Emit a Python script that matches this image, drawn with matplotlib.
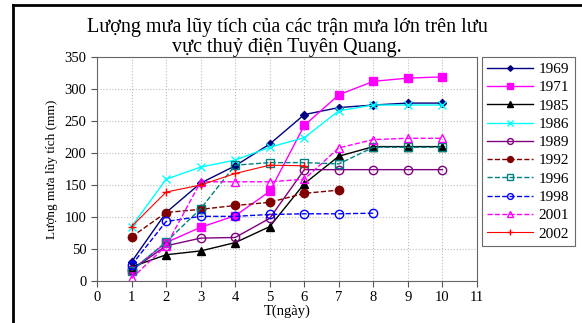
import matplotlib
matplotlib.use('Agg')
import matplotlib.pyplot as plt
from matplotlib.lines import Line2D

# cumulative rainfall (mm) per day of each storm
days = [1, 2, 3, 4, 5, 6, 7, 8, 9, 10]
r1969 = [30, 107, 153, 180, 214, 260, 271, 275, 278, 278]
r1971 = [17, 60, 84, 102, 140, 243, 291, 312, 317, 319]
r1985 = [22, 41, 47, 60, 85, 152, 195, 210, 210, 210]
r1986 = [85, 159, 178, 189, 209, 224, 266, 275, 275, 275]
r1989 = [17, 55, 67, 68, 98, 174, 174, 174, 174, 174]
r1992 = [69, 107, 112, 118, 123, 137, 142]
r1996 = [16, 61, 113, 181, 185, 185, 183, 209, 209, 209]
r1998 = [25, 93, 101, 101, 104, 105, 105, 106]
r2001 = [4, 55, 155, 155, 155, 159, 208, 221, 223, 223]
r2002 = [85, 139, 150, 168, 181, 180]

xticks = list(range(0, 12))
yticks = list(range(0, 351, 50))

plt.rcParams['font.family'] = ['Liberation Serif', 'DejaVu Serif']

fig = plt.figure(figsize=(5.82, 3.23), dpi=100)
ax = fig.add_axes([0.1667, 0.130, 0.6529, 0.6935])

series = [
    ('1969', r1969, dict(color='#000080', ls='-', marker='D', ms=4, mfc='#000080')),
    ('1971', r1971, dict(color='#FF00FF', ls='-', marker='s', ms=6, mfc='#FF00FF')),
    ('1985', r1985, dict(color='black', ls='-', marker='^', ms=6, mfc='black')),
    ('1986', r1986, dict(color='#00FFFF', ls='-', marker='x', ms=6)),
    ('1989', r1989, dict(color='#800080', ls='-', marker='o', ms=6, mfc='none')),
    ('1992', r1992, dict(color='#800000', ls='--', marker='o', ms=6, mfc='#800000')),
    ('1996', r1996, dict(color='#008080', ls='--', marker='s', ms=6, mfc='none')),
    ('1998', r1998, dict(color='#0000FF', ls='--', marker='o', ms=6, mfc='none')),
    ('2001', r2001, dict(color='#FF00FF', ls='--', marker='^', ms=6, mfc='none')),
    ('2002', r2002, dict(color='#FF0000', ls='-', marker='+', ms=6, lw=0.8)),
]

for name, vals, st in series:
    lw = st.pop('lw', 1.0)
    ax.plot(days[:len(vals)], vals, label=name, lw=lw, **st)

ax.set_xlim(0, 11)
ax.set_ylim(0, 350)
ax.set_xticks(xticks)
ax.set_yticks(yticks)
ax.tick_params(labelsize=10.5, direction='out', length=4, color='#555555')
ax.grid(True, ls=':', color='#BBBBBB', lw=0.8)
for s in ax.spines.values():
    s.set_color('#666666')

ax.set_xlabel('T(ngày)', fontsize=10.5, labelpad=0)
ax.set_ylabel('Lượng mưa lũy tích (mm)', fontsize=9.5, labelpad=5)
ax.set_title('Lượng mưa lũy tích của các trận mưa lớn trên lưu\nvực thuỷ điện Tuyên Quang.',
             fontsize=14.5, linespacing=1.08, pad=3)

leg = ax.legend(loc='upper left', bbox_to_anchor=(1.012, 1.0), fontsize=11,
                frameon=True, fancybox=False, edgecolor='#444444',
                handlelength=3.0, borderpad=0.35, labelspacing=0.3,
                handletextpad=0.4, borderaxespad=0.0, markerscale=0.7)
leg.get_frame().set_linewidth(0.8)

# outer frame of the original figure
fig.add_artist(Line2D([13 / 582, 13 / 582], [0, 1 - 5 / 323], color='black', lw=2))
fig.add_artist(Line2D([13 / 582, 1], [1 - 5 / 323, 1 - 5 / 323], color='black', lw=2))

fig.savefig('out.png', dpi=100)
